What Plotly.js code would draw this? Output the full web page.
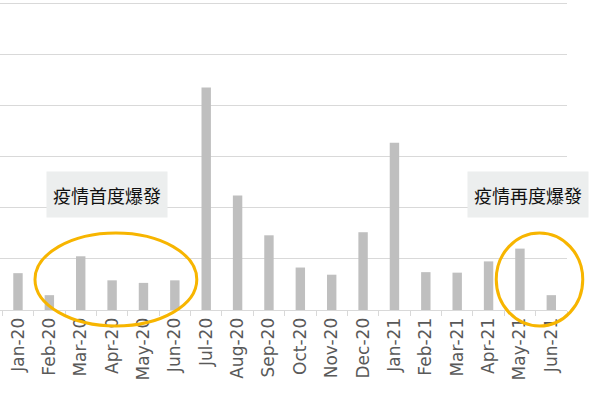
<!DOCTYPE html>
<html>
<head>
<meta charset="utf-8">
<script src="https://cdn.plot.ly/plotly-3.0.1.min.js"></script>
<style>
  html, body { margin: 0; padding: 0; background: #fff; }
  #chart { width: 600px; height: 401px; }
</style>
</head>
<body>
<div id="chart"></div>
<script>
// months on the x axis
const months = [
    'Jan-20', 'Feb-20', 'Mar-20', 'Apr-20', 'May-20', 'Jun-20',
    'Jul-20', 'Aug-20', 'Sep-20', 'Oct-20', 'Nov-20', 'Dec-20',
    'Jan-21', 'Feb-21', 'Mar-21', 'Apr-21', 'May-21', 'Jun-21'
];

// bar heights (one gridline = 100)
const counts = [
    72, 29, 105, 58, 53, 58,
    435, 224, 146, 83, 69, 152,
    327, 74, 73, 95, 120, 29
];

const noteFirst = '疫情首度爆發';
const noteAgain = '疫情再度爆發';

const GOLD = '#f7b500';

const boxNote = (text, x) => ({
    text: text,
    xref: 'paper', yref: 'paper',
    x: x, y: 0.374,
    xanchor: 'center', yanchor: 'middle',
    showarrow: false,
    width: 118, height: 43,
    bgcolor: '#eceeee',
    font: { family: 'Noto Sans CJK TC', size: 18, color: '#111' },
});

const ring = (x0, x1) => ({
    type: 'circle',
    xref: 'paper', yref: 'paper',
    x0: x0, x1: x1, y0: -0.052, y1: 0.25,
    line: { color: GOLD, width: 3 },
    layer: 'above',
});

const trace = {
    type: 'bar',
    x: months,
    y: counts,
    marker: { color: '#bfbfbf' },
    hoverinfo: 'x+y',
};

const layout = {
    width: 600,
    height: 401,
    margin: { l: 0, r: 32.5, t: 2, b: 91 },
    paper_bgcolor: '#fff',
    plot_bgcolor: '#fff',
    bargap: 0.7,
    showlegend: false,
    xaxis: {
        type: 'category',
        range: [-0.573, 17.5],
        tickangle: -90,
        tickson: 'boundaries',
        ticks: 'outside',
        ticklen: 5,
        tickcolor: '#d9d9d9',
        showline: true,
        linecolor: '#d9d9d9',
        showgrid: false,
        tickfont: { family: 'DejaVu Sans', size: 17, color: '#595959' },
    },
    yaxis: {
        range: [0, 602],
        dtick: 100,
        showticklabels: false,
        gridcolor: '#d9d9d9',
        gridwidth: 1,
        zeroline: false,
    },
    shapes: [ring(0.0617, 0.3471), ring(0.8752, 1.0278)],
    annotations: [boxNote(noteFirst, 0.1885), boxNote(noteAgain, 0.932)],
};

Plotly.newPlot('chart', [trace], layout, { displayModeBar: false, staticPlot: true });
</script>
</body>
</html>
